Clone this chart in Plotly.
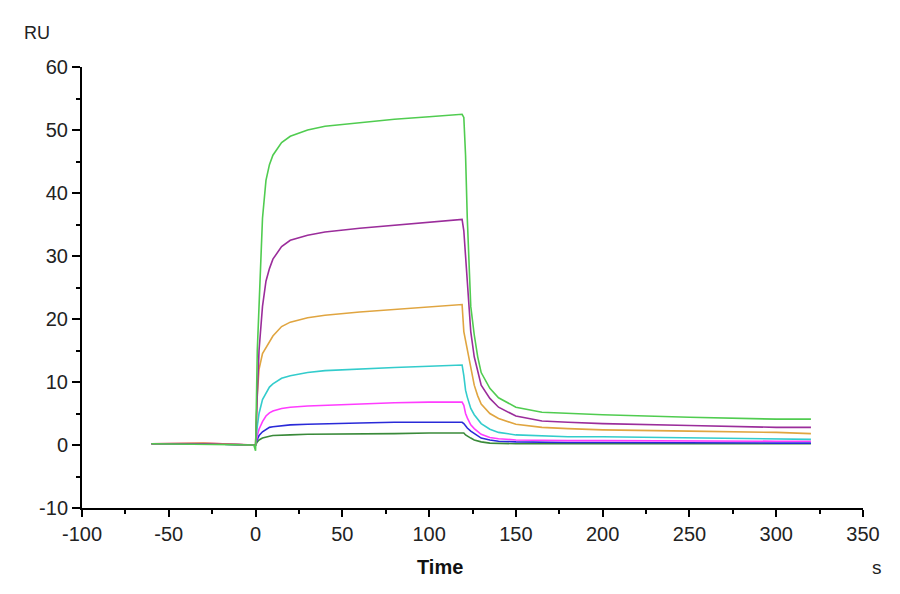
import plotly.graph_objects as go

# time points (s)
time = [-60, -30, -1, 0, 1, 2, 4, 6, 8, 10, 15, 20, 30, 40, 60, 80, 100, 119,
        120, 121, 122, 124, 126, 128, 130, 135, 140, 150, 165, 180, 200, 250, 300, 320]

# response (RU) per concentration, lowest to highest
ru_darkgreen = [0.2, 0.2, 0.0, 0.0, 0.5, 0.8, 1.1, 1.3, 1.4, 1.5, 1.6, 1.6, 1.7, 1.7, 1.8, 1.8, 1.9, 1.8,
                1.9, 1.6, 1.4, 1.1, 0.8, 0.6, 0.5, 0.3, 0.25, 0.2, 0.2, 0.2, 0.2, 0.2, 0.2, 0.2]
ru_blue = [0.2, 0.2, 0.0, 0.0, 0.9, 1.5, 2.1, 2.5, 2.8, 2.9, 3.1, 3.2, 3.3, 3.4, 3.5, 3.6, 3.6, 3.6,
           3.4, 3.0, 2.7, 2.2, 1.8, 1.4, 1.1, 0.8, 0.6, 0.5, 0.4, 0.4, 0.4, 0.3, 0.3, 0.3]
ru_magenta = [0.2, 0.3, 0.0, 0.0, 1.5, 2.5, 3.7, 4.6, 5.1, 5.4, 5.8, 6.0, 6.2, 6.3, 6.6, 6.7, 6.8, 6.8,
              6.3, 5.0, 4.3, 3.2, 2.6, 2.1, 1.7, 1.2, 1.0, 0.8, 0.7, 0.7, 0.7, 0.6, 0.6, 0.6]
ru_cyan = [0.2, 0.2, 0.0, 0.0, 3.0, 5.0, 7.2, 8.3, 9.2, 9.7, 10.6, 11.0, 11.5, 11.8, 12.1, 12.3, 12.5, 12.7,
           11.0, 8.7, 7.6, 5.8, 4.8, 4.0, 3.4, 2.5, 2.0, 1.6, 1.4, 1.3, 1.3, 1.1, 0.9, 0.9]
ru_orange = [0.2, 0.3, 0.0, 0.0, 8.0, 12.0, 14.5, 15.5, 16.5, 17.3, 18.8, 19.5, 20.2, 20.6, 21.1, 21.5, 21.9, 22.3,
             18.0, 16.5, 15.0, 11.9, 9.5, 7.8, 6.5, 5.0, 4.2, 3.3, 2.8, 2.6, 2.4, 2.2, 2.0, 1.8]
ru_purple = [0.2, 0.2, 0.0, 0.0, 8.0, 15.0, 22.0, 26.0, 28.0, 29.5, 31.5, 32.5, 33.3, 33.8, 34.4, 34.9, 35.3, 35.8,
             34.0, 30.0, 26.0, 18.0, 14.0, 11.5, 9.5, 7.4, 6.0, 4.6, 3.8, 3.6, 3.4, 3.1, 2.8, 2.8]
ru_green = [0.2, 0.1, 0.0, -0.9, 15.0, 22.0, 36.0, 42.0, 44.5, 46.0, 48.0, 49.0, 50.0, 50.6, 51.2, 51.7, 52.1, 52.5,
            52.0, 46.0, 36.0, 22.0, 17.5, 14.0, 11.5, 9.0, 7.5, 6.0, 5.2, 5.0, 4.8, 4.4, 4.1, 4.1]

series = [
    (ru_darkgreen, '#3a8a3a'),
    (ru_blue, '#2a2ad8'),
    (ru_magenta, '#ff3cff'),
    (ru_cyan, '#33cccc'),
    (ru_orange, '#e0a540'),
    (ru_purple, '#9b2d9b'),
    (ru_green, '#50cc50'),
]

# tick labels use a plain hyphen like the original software
x_ticks = [-100, -50, 0, 50, 100, 150, 200, 250, 300, 350]
y_ticks = [-10, 0, 10, 20, 30, 40, 50, 60]

FONT = 'Liberation Sans, Arial'

fig = go.Figure()
for vals, col in series:
    fig.add_trace(go.Scatter(x=time, y=vals, mode='lines',
                             line=dict(color=col, width=1.6), showlegend=False))

axis_style = dict(showline=True, linecolor='black', linewidth=2, showgrid=False, zeroline=False,
                  ticks='outside', tickcolor='black', tickwidth=2,
                  tickfont=dict(family=FONT, size=20, color='#222222'))

fig.update_xaxes(range=[-100, 350], tickvals=x_ticks, ticktext=[str(v) for v in x_ticks], ticklen=7,
                 minor=dict(dtick=25, ticks='outside', ticklen=4, tickcolor='black', tickwidth=2),
                 **axis_style)
fig.update_yaxes(range=[-10, 60], tickvals=y_ticks, ticktext=[str(v) for v in y_ticks], ticklen=8,
                 minor=dict(dtick=5, ticks='outside', ticklen=4, tickcolor='black', tickwidth=2),
                 **axis_style)

fig.add_annotation(text='<b>Time</b>', x=0.458, y=-0.134, xref='paper', yref='paper',
                   xanchor='center', yanchor='middle', showarrow=False,
                   font=dict(family=FONT, size=20, color='#111111'))
fig.add_annotation(text='s', x=1.018, y=-0.134, xref='paper', yref='paper',
                   xanchor='center', yanchor='middle', showarrow=False,
                   font=dict(family=FONT, size=19, color='#222222'))
fig.add_annotation(text='RU', x=-0.0768, y=1.077, xref='paper', yref='paper',
                   xanchor='left', yanchor='middle', showarrow=False,
                   font=dict(family=FONT, size=18, color='#222222'))

# page body adds an 8px offset, so margins are shifted to keep the plot where the original has it
fig.update_layout(width=900, height=594, plot_bgcolor='white', paper_bgcolor='white',
                  margin=dict(l=74, r=45, t=59, b=94))

fig.write_html("out.html")
